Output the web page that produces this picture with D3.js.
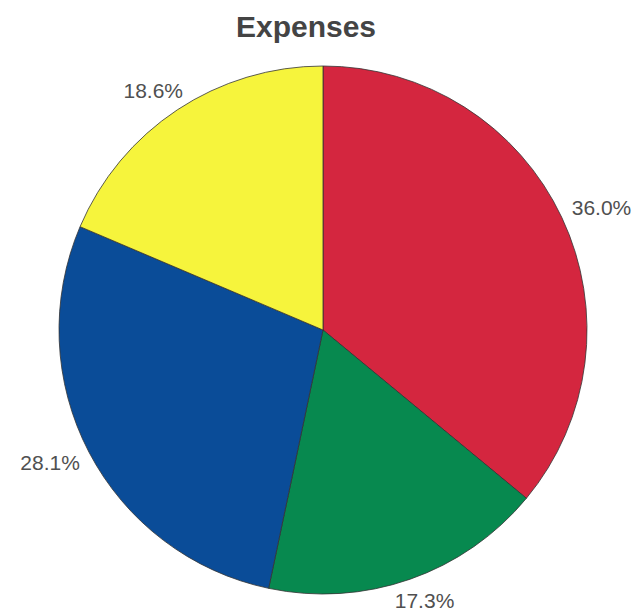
<!DOCTYPE html>
<html>
<head>
<meta charset="utf-8">
<script src="https://cdn.jsdelivr.net/npm/d3@7"></script>
<style>
  html, body { margin: 0; padding: 0; background: #fff; }
</style>
</head>
<body>
<svg id="chart" width="638" height="616"></svg>
<script>
const categories = ["Red", "Green", "Blue", "Yellow"];
const values = [36.0, 17.3, 28.1, 18.6];
const labels = ["36.0%", "17.3%", "28.1%", "18.6%"];
const colors = ["#d4263f", "#07894f", "#0a4c98", "#f6f43c"];

const svg = d3.select("#chart");
const cx = 323, cy = 330, r = 264;
const FONT = "Liberation Sans, Arial, Helvetica, sans-serif";

svg.append("text")
  .attr("x", 306).attr("y", 37)
  .attr("text-anchor", "middle")
  .attr("font-family", FONT)
  .attr("font-weight", "bold")
  .attr("font-size", 30)
  .attr("fill", "#444")
  .text("Expenses");

const data = categories.map((c, i) => ({ cat: c, value: values[i], label: labels[i], color: colors[i] }));

const pie = d3.pie().value(d => d.value).sort(null);
const arcs = pie(data);
const arc = d3.arc().innerRadius(0).outerRadius(r);
const gap = 14;
const labelArc = d3.arc().innerRadius(r + gap).outerRadius(r + gap);

const g = svg.append("g").attr("transform", `translate(${cx},${cy})`);

g.selectAll("path.slice").data(arcs).enter().append("path")
  .attr("class", "slice")
  .attr("d", arc)
  .attr("fill", d => d.data.color)
  .attr("stroke", "#333")
  .attr("stroke-width", 0.8);

const lbl = g.selectAll("text.lbl").data(arcs).enter().append("text")
  .attr("class", "lbl")
  .attr("text-anchor", "middle")
  .attr("dy", "0.35em")
  .attr("font-family", FONT)
  .attr("font-size", 21)
  .attr("fill", "#505050")
  .text(d => d.data.label);

lbl.each(function(d) {
  const bb = this.getBBox();
  const mid = (d.startAngle + d.endAngle) / 2;
  const p = labelArc.centroid(d);
  const x = p[0] + Math.sin(mid) * bb.width / 2;
  const y = p[1] - Math.cos(mid) * bb.height / 2 * 0.75;
  d3.select(this).attr("transform", `translate(${x},${y})`);
});
</script>
</body>
</html>
